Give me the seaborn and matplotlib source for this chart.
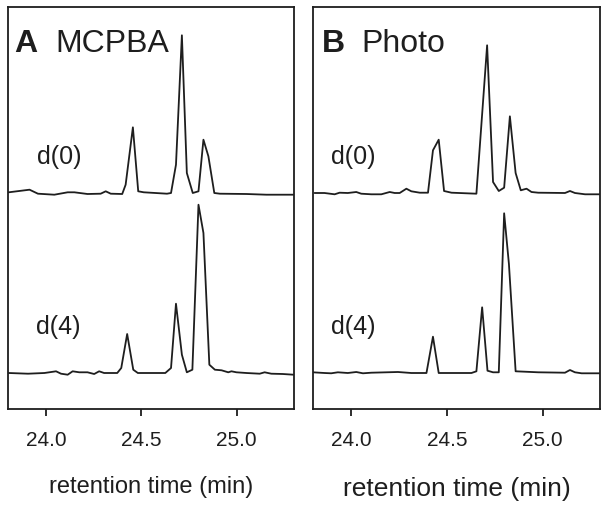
import numpy as np
import pandas as pd
import matplotlib
matplotlib.use("Agg")
import matplotlib.pyplot as plt
import seaborn as sns

# ---------------- data (retention time in min, signal in arbitrary units) ----------------
mcpba_d0_time = [23.804, 23.913, 23.957, 24.043, 24.113, 24.148, 24.217, 24.286, 24.3125, 24.339,
                 24.399, 24.417, 24.455, 24.483, 24.512, 24.634, 24.655, 24.681, 24.712, 24.738,
                 24.769, 24.799, 24.825, 24.851, 24.882, 24.911, 25.050, 25.155, 25.297]
mcpba_d0_signal = [0.7, 3.3, -0.7, -1.7, 0.7, 0.7, -1.0, -0.7, 1.7, -0.7,
                   -1.0, 8.3, 65.7, 1.7, 0.7, -0.7, 0.0, 28.3, 157.7, 20.0,
                   0.0, 1.7, 53.3, 36.7, 0.0, -0.7, -1.0, -1.7, -1.7]

mcpba_d4_time = [23.804, 23.905, 23.991, 24.052, 24.078, 24.113, 24.139, 24.174, 24.217, 24.252,
                 24.278, 24.304, 24.347, 24.373, 24.394, 24.425, 24.457, 24.481, 24.530, 24.625,
                 24.655, 24.681, 24.712, 24.738, 24.767, 24.799, 24.825, 24.856, 24.885, 24.920,
                 24.955, 24.972, 24.998, 25.050, 25.120, 25.146, 25.181, 25.241, 25.297]
mcpba_d4_signal = [0.0, -0.7, 0.0, 1.7, -0.7, -1.7, 1.7, 0.7, 0.7, -1.0,
                   1.7, 0.0, 0.0, 0.0, 5.0, 39.0, 3.3, 0.0, 0.0, 0.0,
                   5.0, 69.3, 18.3, 0.7, 3.3, 168.3, 140.0, 8.3, 3.3, 2.7,
                   0.7, 1.7, 0.7, 0.0, -0.7, 0.7, -0.7, -1.0, -1.7]

photo_d0_time = [23.808, 23.860, 23.913, 23.939, 23.982, 24.026, 24.052, 24.105, 24.157, 24.201,
                 24.227, 24.253, 24.288, 24.314, 24.358, 24.401, 24.427, 24.457, 24.485, 24.524,
                 24.654, 24.710, 24.741, 24.771, 24.799, 24.829, 24.859, 24.886, 24.916, 24.942,
                 24.977, 25.117, 25.143, 25.169, 25.222, 25.300]
photo_d0_signal = [0.0, 0.0, -1.3, 0.3, 0.0, 1.0, -0.7, -1.3, -1.3, 1.0,
                   0.0, 0.0, 4.3, 1.7, 0.3, 0.3, 42.7, 53.3, 2.0, 0.3,
                   -0.7, 147.7, 11.0, 2.0, 5.3, 76.7, 20.0, 2.7, 4.3, 1.0,
                   0.3, 0.0, 2.0, 0.0, -1.3, -1.3]

photo_d4_time = [23.799, 23.860, 23.895, 23.930, 23.982, 24.026, 24.061, 24.105, 24.244, 24.314,
                 24.393, 24.427, 24.457, 24.524, 24.628, 24.654, 24.684, 24.712, 24.741, 24.771,
                 24.799, 24.824, 24.859, 24.907, 24.977, 25.117, 25.143, 25.169, 25.204, 25.300]
photo_d4_signal = [0.7, 0.0, -0.3, 0.7, 0.0, 1.0, -0.3, 0.3, 1.0, 0.0,
                   0.0, 36.3, 0.0, 0.0, 0.0, 1.7, 65.7, 2.3, 0.7, 0.7,
                   159.7, 109.0, 1.7, 1.3, 0.7, 0.3, 3.0, 0.7, -0.3, -0.3]

panel_letters = ["A", "B"]
panel_names = ["MCPBA", "Photo"]
trace_labels = ["d(0)", "d(4)"]
tick_values = [24.0, 24.5, 25.0]
tick_labels = ["24.0", "24.5", "25.0"]
x_label = "retention time (min)"

# vertical offsets of the stacked traces
offset_d0 = 216
offset_d4 = 36

# ---------------- styling ----------------
sns.set_style("ticks")
plt.rcParams["font.family"] = ["Liberation Sans", "DejaVu Sans"]
ink = "#1e1e1e"

fig = plt.figure(figsize=(6.08, 5.09), dpi=100)
axA = fig.add_axes([8 / 608, 100 / 509, 286 / 608, 402 / 509])
axB = fig.add_axes([313 / 608, 100 / 509, 287 / 608, 402 / 509])

panels = [
    (axA, [(mcpba_d0_time, mcpba_d0_signal, offset_d0), (mcpba_d4_time, mcpba_d4_signal, offset_d4)]),
    (axB, [(photo_d0_time, photo_d0_signal, offset_d0), (photo_d4_time, photo_d4_signal, offset_d4)]),
]

for i, (ax, traces) in enumerate(panels):
    for t, s, off in traces:
        df = pd.DataFrame({"time": t, "signal": np.array(s) + off})
        sns.lineplot(data=df, x="time", y="signal", ax=ax, color=ink, linewidth=1.3,
                     sort=False, estimator=None)
    ax.set_xlim(23.80, 25.30)
    ax.set_ylim(0, 402)
    ax.set_yticks([])
    ax.set_ylabel("")
    ax.set_xticks(tick_values)
    ax.set_xticklabels(tick_labels)
    ax.tick_params(axis="x", direction="out", length=5, width=1.3, color=ink,
                   labelsize=15, pad=11, labelcolor=ink)
    for sp in ax.spines.values():
        sp.set_visible(True)
        sp.set_linewidth(1.3)
        sp.set_color(ink)

# axis labels
axA.set_xlabel(x_label, fontsize=17, color=ink)
axA.xaxis.set_label_coords(0.5, -0.195)
axA.xaxis.label.set_va("center")
axB.set_xlabel(x_label, fontsize=19, color=ink)
axB.xaxis.set_label_coords(0.5, -0.2)
axB.xaxis.label.set_va("center")

# panel titles
axA.text(0.022, 0.887, panel_letters[0], transform=axA.transAxes, fontsize=23,
         fontweight="bold", color=ink, va="baseline", ha="left")
axA.text(0.165, 0.887, panel_names[0], transform=axA.transAxes, fontsize=23,
         color=ink, va="baseline", ha="left")
axB.text(0.030, 0.887, panel_letters[1], transform=axB.transAxes, fontsize=23,
         fontweight="bold", color=ink, va="baseline", ha="left")
axB.text(0.168, 0.887, panel_names[1], transform=axB.transAxes, fontsize=23,
         color=ink, va="baseline", ha="left")

# trace labels
axA.text(0.100, 0.626, trace_labels[0], transform=axA.transAxes, fontsize=18,
         color=ink, va="center", ha="left")
axA.text(0.097, 0.205, trace_labels[1], transform=axA.transAxes, fontsize=18,
         color=ink, va="center", ha="left")
axB.text(0.062, 0.628, trace_labels[0], transform=axB.transAxes, fontsize=18,
         color=ink, va="center", ha="left")
axB.text(0.062, 0.205, trace_labels[1], transform=axB.transAxes, fontsize=18,
         color=ink, va="center", ha="left")

fig.savefig("out.png", dpi=100)
